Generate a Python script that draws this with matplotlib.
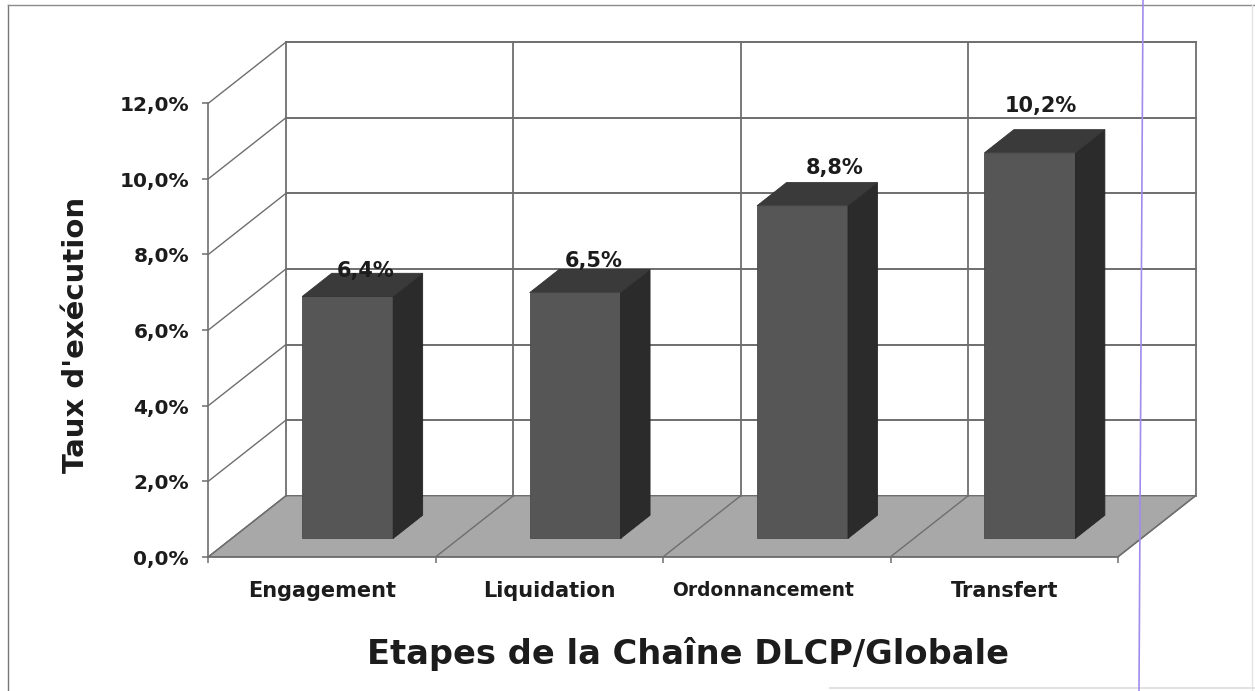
import matplotlib
matplotlib.use("Agg")
import matplotlib.pyplot as plt
from matplotlib.patches import Polygon
from matplotlib.transforms import ScaledTranslation

plt.rcParams["font.family"] = "DejaVu Sans"

categories = ["Engagement", "Liquidation", "Ordonnancement", "Transfert"]
values = [6.4, 6.5, 8.8, 10.2]
value_labels = ["6,4%", "6,5%", "8,8%", "10,2%"]
y_ticks = [0, 2, 4, 6, 8, 10, 12]
y_tick_labels = ["0,0%", "2,0%", "4,0%", "6,0%", "8,0%", "10,0%", "12,0%"]

W, H = 1255, 691
X0, Y0 = 208.5, 556.7      # pixel position of the front corner
CAT_PX = 227.4             # pixels per category
VAL_PX = 37.8              # pixels per percent
DX = 77.5 / CAT_PX         # depth offset, in data units
DY = 61.0 / VAL_PX

LINE = "#6e6e6e"
TEXT = "#1c1c1c"


def proj(x, v, d=0.0):
    # oblique projection, d=0 is the front plane and d=1 the back wall
    return x + d * DX, v + d * DY


def box(ax, x0, x1, value, d0, d1):
    front = [proj(x0, 0, d0), proj(x1, 0, d0), proj(x1, value, d0), proj(x0, value, d0)]
    side = [proj(x1, 0, d0), proj(x1, 0, d1), proj(x1, value, d1), proj(x1, value, d0)]
    top = [proj(x0, value, d0), proj(x1, value, d0), proj(x1, value, d1), proj(x0, value, d1)]
    ax.add_patch(Polygon(front, fc="#565656", ec="#4a4a4a", lw=0.6, zorder=5))
    ax.add_patch(Polygon(side, fc="#2b2b2b", ec="#262626", lw=0.6, zorder=5))
    ax.add_patch(Polygon(top, fc="#3a3a3a", ec="#333333", lw=0.6, zorder=5))


fig = plt.figure(figsize=(W / 100, H / 100), dpi=100)
ax = fig.add_axes([0, 0, 1, 1])
ax.set_xlim(-X0 / CAT_PX, (W - X0) / CAT_PX)
ax.set_ylim(-(H - Y0) / VAL_PX, Y0 / VAL_PX)
ax.patch.set_visible(False)

n = len(categories)

# floor
floor = [proj(0, 0), proj(n, 0), proj(n, 0, 1), proj(0, 0, 1)]
ax.add_patch(Polygon(floor, fc="#a8a8a8", ec=LINE, lw=1.0, zorder=1))
for i in range(n + 1):
    ax.plot(*zip(proj(i, 0), proj(i, 0, 1)), color=LINE, lw=1.0, zorder=2)

# walls: gridlines on the left side and on the back
for t in y_ticks[1:]:
    ax.plot(*zip(proj(0, t), proj(0, t, 1)), color=LINE, lw=1.0, zorder=2)
    ax.plot(*zip(proj(0, t, 1), proj(n, t, 1)), color=LINE, lw=1.4, zorder=2)
for i in range(n + 1):
    ax.plot(*zip(proj(i, 0, 1), proj(i, y_ticks[-1], 1)), color=LINE, lw=1.3, zorder=2)

# bars
for i, v in enumerate(values):
    box(ax, i + 0.31, i + 0.71, v, 0.30, 0.68)

# front axes
for sp in ("top", "right"):
    ax.spines[sp].set_visible(False)
ax.spines["left"].set_position(("data", 0))
ax.spines["bottom"].set_position(("data", 0))
ax.spines["left"].set_bounds(0, y_ticks[-1])
ax.spines["bottom"].set_bounds(0, n)
for sp in ("left", "bottom"):
    ax.spines[sp].set_color(LINE)
    ax.spines[sp].set_linewidth(1.2)
    ax.spines[sp].set_zorder(3)
ax.set_yticks(y_ticks)
ax.set_yticklabels(y_tick_labels, fontsize=14.5, fontweight="bold", color=TEXT,
                   va="center")
ax.tick_params(axis="y", length=4, width=1.1, color=LINE, pad=10)
nudge = ScaledTranslation(0, -2.5 / 100, fig.dpi_scale_trans)
for lbl in ax.get_yticklabels():
    lbl.set_transform(lbl.get_transform() + nudge)
ax.set_xticks(range(n + 1))
ax.set_xticklabels([])
ax.tick_params(axis="x", length=4, width=1.1, color=LINE)

# category names, the long one is squeezed and sits left of its slot in the original
name_shift = [0.0, 0.0, -0.06, 0.0]
name_size = [15, 15, 13.4, 15]
for i, name in enumerate(categories):
    ax.text(i + 0.5 + name_shift[i], -0.90, name, ha="center", va="center",
            fontsize=name_size[i], fontweight="bold", color=TEXT, zorder=6)

# value labels
label_dx = [0.08, 0.08, 0.14, 0.05]
label_dy = [0.67, 0.85, 1.00, 1.24]
for i, v in enumerate(values):
    ax.text(i + 0.51 + DX * 0.30 + label_dx[i], v + DY * 0.30 + label_dy[i],
            value_labels[i], ha="center", va="center", fontsize=15,
            fontweight="bold", color=TEXT, zorder=6)

fig.text(76 / W, 1 - 335 / H, "Taux d'exécution", rotation=90, ha="center",
         va="center", fontsize=21, fontweight="bold", color=TEXT)
fig.text(688 / W, 1 - 654 / H, "Etapes de la Chaîne DLCP/Globale", ha="center",
         va="center", fontsize=24.2, fontweight="bold", color=TEXT)

# page frame and the scanner's stray line
fig.add_artist(plt.Line2D([7.5 / W, 7.5 / W], [0, 1 - 5 / H], color="#777777", lw=1.0))
fig.add_artist(plt.Line2D([7.5 / W, 1], [1 - 5 / H, 1 - 5 / H], color="#8a8a8a", lw=1.0))
fig.add_artist(plt.Line2D([1252 / W, 1252 / W], [0, 1 - 5 / H], color="#e4e4e4", lw=1.0))
fig.add_artist(plt.Line2D([830 / W, 1], [1 - 688 / H, 1 - 688 / H], color="#e2e2e2", lw=1.5))
fig.add_artist(plt.Line2D([1143 / W, 1139 / W], [1, 0], color="#a08cec", lw=1.2))

fig.savefig("out.png", dpi=100)
